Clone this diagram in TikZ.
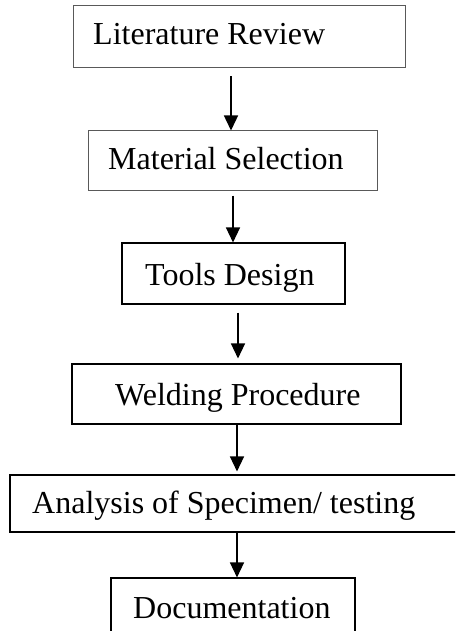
\documentclass[tikz,border=0pt]{standalone}
\usepackage{fontspec}
\setmainfont{Liberation Serif}
\usetikzlibrary{arrows.meta}
\begin{document}
\begin{tikzpicture}[x=1pt,y=-1pt,
  box/.style={draw=black,line width=1.1pt,rectangle,inner sep=0pt},
  graybox/.style={draw=black!65,line width=1pt,rectangle,inner sep=0pt},
  lbl/.style={inner sep=0pt,anchor=base west,font=\fontsize{32}{38}\selectfont},
  arr/.style={line width=1.4pt,-{Triangle[width=14pt,length=15pt]}}]
\clip (0,0) rectangle (455,631);
\fill[white] (0,0) rectangle (455,631);
% boxes
\node[graybox,minimum width=332pt,minimum height=62pt] (b1) at (239,37) {};
\node[graybox,minimum width=289pt,minimum height=59pt] (b2) at (232.5,160.5) {};
\node[box,minimum width=223pt,minimum height=61pt] (b3) at (233.5,273.5) {};
\node[box,minimum width=329pt,minimum height=60pt] (b4) at (236.5,394) {};
\node[box,minimum width=460pt,minimum height=57pt] (b5) at (240,503.5) {};
\node[box,minimum width=244pt,minimum height=62pt] (b6) at (233,609) {};
% texts
\node[lbl] (t1) at (93,45) {Literature Review};
\node[lbl] (t2) at (108,169) {Material Selection};
\node[lbl] (t3) at (145,285) {Tools Design};
\node[lbl] (t4) at (115,405) {Welding Procedure};
\node[lbl] (t5) at (32,513) {Analysis of Specimen/ testing};
\node[lbl] (t6) at (133,618) {Documentation};
% arrow columns
\coordinate (x1) at (231,0);
\coordinate (x2) at (233,0);
\coordinate (x3) at (238,0);
\coordinate (x4) at (237,0);
\draw[arr,shorten <=8pt] (b1.south -| x1) -- (b2.north -| x1);
\draw[arr,shorten <=5pt] (b2.south -| x2) -- (b3.north -| x2);
\draw[arr,shorten <=8pt,shorten >=5pt] (b3.south -| x3) -- (b4.north -| x3);
\draw[arr,shorten >=3pt] (b4.south -| x4) -- (b5.north -| x4);
\draw[arr] (b5.south -| x4) -- (b6.north -| x4);
\end{tikzpicture}
\end{document}
